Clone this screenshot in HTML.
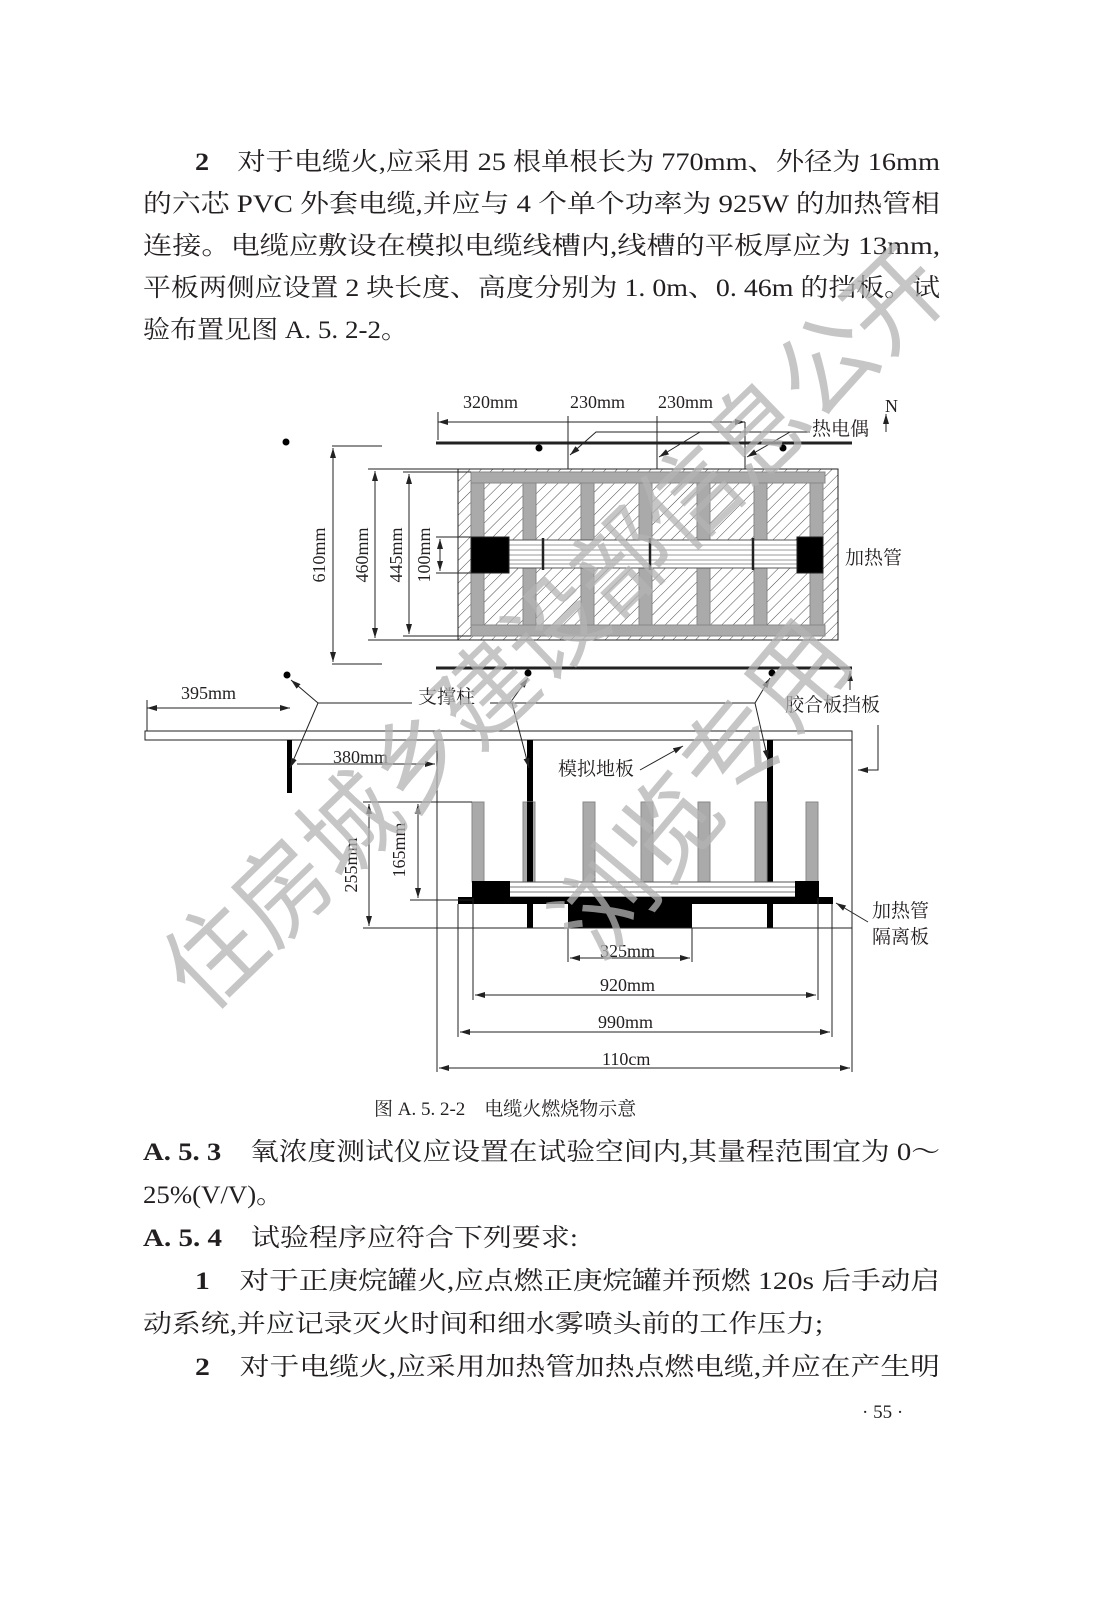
<!DOCTYPE html>
<html><head><meta charset="utf-8"><style>
html,body{margin:0;padding:0;background:#fff;}
svg{display:block;}
.t{font-family:"Liberation Serif","Noto Serif CJK SC",serif;font-size:25px;fill:#231f20;}
.d{font-family:"Liberation Serif","Noto Serif CJK SC",serif;font-size:18px;fill:#231f20;}
.c{font-family:"Liberation Serif","Noto Serif CJK SC",serif;font-size:19px;fill:#231f20;}
.w{font-family:"Noto Sans CJK SC",sans-serif;font-size:100px;fill:#b4b4b4;opacity:0.75;}
</style></head><body>
<svg width="1102" height="1597" viewBox="0 0 1102 1597" xmlns="http://www.w3.org/2000/svg">
<defs>
<pattern id="h" patternUnits="userSpaceOnUse" width="8" height="8" patternTransform="rotate(45)">
<rect width="8" height="8" fill="#fff"/><line x1="0" y1="0" x2="0" y2="8" stroke="#333" stroke-width="0.9"/></pattern>
<marker id="a" markerWidth="10" markerHeight="6" refX="10" refY="3" orient="auto-start-reverse" markerUnits="userSpaceOnUse"><path d="M0,0L10,3L0,6z" fill="#222"/></marker>
</defs>
<!-- paragraph text -->
<text class="t" x="195" y="170" textLength="745" lengthAdjust="spacingAndGlyphs"><tspan font-weight="bold">2</tspan>　对于电缆火,应采用 25 根单根长为 770mm、外径为 16mm</text>
<text class="t" x="143" y="212" textLength="797" lengthAdjust="spacingAndGlyphs">的六芯 PVC 外套电缆,并应与 4 个单个功率为 925W 的加热管相</text>
<text class="t" x="143" y="254" textLength="797" lengthAdjust="spacingAndGlyphs">连接。电缆应敷设在模拟电缆线槽内,线槽的平板厚应为 13mm,</text>
<text class="t" x="143" y="296" textLength="797" lengthAdjust="spacingAndGlyphs">平板两侧应设置 2 块长度、高度分别为 1. 0m、0. 46m 的挡板。试</text>
<text class="t" x="143" y="338" textLength="265" lengthAdjust="spacingAndGlyphs">验布置见图 A. 5. 2-2。</text>

<g stroke="#222" fill="none" stroke-width="1">
<!-- top view -->
<line x1="438" y1="422" x2="745" y2="422" marker-start="url(#a)" marker-end="url(#a)"/>
<line x1="568" y1="416" x2="568" y2="428"/><line x1="657" y1="416" x2="657" y2="428"/>
<line x1="438" y1="412" x2="438" y2="440"/>
<line x1="568" y1="422" x2="568" y2="565"/><line x1="657" y1="422" x2="657" y2="565"/><line x1="745" y1="422" x2="745" y2="565"/>
<line x1="436" y1="443" x2="852" y2="443" stroke-width="3"/>
<line x1="436" y1="668" x2="852" y2="668" stroke-width="3"/>
<!-- thermo leaders -->
<polyline points="810,432 596,432 570,455" marker-end="url(#a)"/>
<line x1="700" y1="432" x2="659" y2="457" marker-end="url(#a)"/>
<line x1="790" y1="432" x2="747" y2="457" marker-end="url(#a)"/>
<!-- N -->
<line x1="886" y1="432" x2="886" y2="414" marker-end="url(#a)"/>
<!-- hatched box -->
<rect x="458" y="469" width="380" height="171" fill="url(#h)"/>
<g fill="#aaa" stroke="#888">
<rect x="471" y="472" width="354" height="11"/><rect x="471" y="625" width="354" height="11"/>
<rect x="471" y="483" width="13" height="142"/><rect x="523" y="483" width="13" height="142"/><rect x="581" y="483" width="13" height="142"/>
<rect x="639" y="483" width="13" height="142"/><rect x="697" y="483" width="13" height="142"/><rect x="754" y="483" width="13" height="142"/><rect x="810" y="483" width="13" height="142"/>
</g>
<rect x="508" y="540" width="290" height="28" fill="#fff" stroke="#555"/>
<g stroke="#777" stroke-width="0.8">
<line x1="508" y1="545" x2="798" y2="545"/><line x1="508" y1="550" x2="798" y2="550"/><line x1="508" y1="555" x2="798" y2="555"/><line x1="508" y1="560" x2="798" y2="560"/><line x1="508" y1="564" x2="798" y2="564"/></g>
<rect x="471" y="537" width="38" height="36" fill="#000"/><rect x="797" y="537" width="26" height="36" fill="#000"/>
<line x1="543" y1="538" x2="543" y2="570" stroke-width="2.5"/><line x1="650" y1="538" x2="650" y2="570" stroke-width="2.5"/><line x1="753" y1="538" x2="753" y2="570" stroke-width="2.5"/>
<!-- left dims top -->
<line x1="332" y1="446" x2="382" y2="446"/><line x1="332" y1="664" x2="382" y2="664"/>
<line x1="333" y1="448" x2="333" y2="662" marker-start="url(#a)" marker-end="url(#a)"/>
<line x1="368" y1="469" x2="458" y2="469"/><line x1="368" y1="640" x2="458" y2="640"/>
<line x1="375" y1="471" x2="375" y2="638" marker-start="url(#a)" marker-end="url(#a)"/>
<line x1="403" y1="472" x2="471" y2="472"/><line x1="403" y1="636" x2="471" y2="636"/>
<line x1="409" y1="474" x2="409" y2="634" marker-start="url(#a)" marker-end="url(#a)"/>
<line x1="436" y1="537" x2="471" y2="537"/><line x1="436" y1="573" x2="471" y2="573"/>
<line x1="440" y1="539" x2="440" y2="571" marker-start="url(#a)" marker-end="url(#a)"/>

<!-- side view -->
<line x1="147" y1="708" x2="290" y2="708" marker-start="url(#a)" marker-end="url(#a)"/>
<line x1="147" y1="700" x2="147" y2="731"/>
<rect x="145" y="731" width="707" height="9" fill="#fff"/>
<line x1="852" y1="731" x2="852" y2="1072"/>
<line x1="437" y1="740" x2="437" y2="1072"/>
<rect x="287" y="740" width="5" height="53" fill="#000" stroke="none"/>
<rect x="527" y="740" width="6" height="62" fill="#000" stroke="none"/>
<rect x="767" y="740" width="6" height="147" fill="#000" stroke="none"/>
<line x1="297" y1="764" x2="435" y2="764" marker-end="url(#a)"/>
<g fill="#aaa" stroke="#888">
<rect x="472" y="802" width="12" height="80"/><rect x="523" y="802" width="12" height="80"/><rect x="583" y="802" width="12" height="80"/>
<rect x="641" y="802" width="12" height="80"/><rect x="698" y="802" width="12" height="80"/><rect x="755" y="802" width="12" height="80"/><rect x="806" y="802" width="12" height="80"/></g>
<rect x="527" y="802" width="6" height="80" fill="#000" stroke="none"/>
<rect x="508" y="882" width="290" height="15" fill="#fff" stroke="#555"/>
<line x1="508" y1="887" x2="798" y2="887" stroke="#777"/><line x1="508" y1="892" x2="798" y2="892" stroke="#777"/>
<rect x="472" y="881" width="38" height="17" fill="#000" stroke="none"/><rect x="795" y="881" width="24" height="17" fill="#000" stroke="none"/>
<rect x="458" y="897" width="375" height="7" fill="#000" stroke="none"/>
<rect x="568" y="897" width="124" height="31" fill="#000" stroke="none"/>
<rect x="527" y="897" width="6" height="31" fill="#000" stroke="none"/>
<rect x="767" y="897" width="6" height="31" fill="#000" stroke="none"/>
<line x1="437" y1="928" x2="852" y2="928"/>
<!-- side dims -->
<line x1="363" y1="802" x2="472" y2="802"/><line x1="363" y1="928" x2="437" y2="928"/><line x1="410" y1="900" x2="472" y2="900"/>
<line x1="369" y1="804" x2="369" y2="926" marker-start="url(#a)" marker-end="url(#a)"/>
<line x1="418" y1="804" x2="418" y2="898" marker-start="url(#a)" marker-end="url(#a)"/>
<line x1="568" y1="928" x2="568" y2="962"/><line x1="692" y1="928" x2="692" y2="962"/>
<line x1="570" y1="958" x2="690" y2="958" marker-start="url(#a)" marker-end="url(#a)"/>
<line x1="473" y1="898" x2="473" y2="1000"/><line x1="818" y1="898" x2="818" y2="1000"/>
<line x1="475" y1="995" x2="816" y2="995" marker-start="url(#a)" marker-end="url(#a)"/>
<line x1="458" y1="904" x2="458" y2="1037"/><line x1="832" y1="904" x2="832" y2="1037"/>
<line x1="460" y1="1032" x2="830" y2="1032" marker-start="url(#a)" marker-end="url(#a)"/>
<line x1="439" y1="1068" x2="850" y2="1068" marker-start="url(#a)" marker-end="url(#a)"/>
<!-- leaders -->
<polyline points="412,703 318,703 291,680" marker-end="url(#a)"/>
<line x1="318" y1="703" x2="290" y2="768" marker-end="url(#a)"/>
<polyline points="490,703 755,703" />
<line x1="510" y1="703" x2="528" y2="678" marker-end="url(#a)"/>
<line x1="512" y1="703" x2="529" y2="768" marker-end="url(#a)"/>
<line x1="755" y1="703" x2="770" y2="678" marker-end="url(#a)"/>
<line x1="755" y1="703" x2="768" y2="760" marker-end="url(#a)"/>
<line x1="850" y1="690" x2="850" y2="671" marker-end="url(#a)"/>
<polyline points="878,725 878,770 858,770" marker-end="url(#a)"/>
<line x1="640" y1="770" x2="683" y2="746" marker-end="url(#a)"/>
<line x1="868" y1="922" x2="836" y2="903" marker-end="url(#a)"/>
</g>
<g fill="#000">
<circle cx="286" cy="442" r="3.5"/><circle cx="539" cy="448" r="3.5"/><circle cx="783" cy="448" r="3.5"/>
<circle cx="287" cy="675" r="3.5"/><circle cx="528" cy="673" r="3.5"/><circle cx="772" cy="673" r="3.5"/>
</g>
<g class="d">
<text x="463" y="408">320mm</text><text x="570" y="408">230mm</text><text x="658" y="408">230mm</text>
<text x="885" y="412">N</text>
<text x="812" y="435" class="c">热电偶</text>
<text x="845" y="564" class="c">加热管</text>
<text x="181" y="699">395mm</text>
<text x="418" y="703" class="c">支撑柱</text>
<text x="785" y="711" class="c">胶合板挡板</text>
<text x="333" y="763">380mm</text>
<text x="558" y="775" class="c">模拟地板</text>
<text x="872" y="917" class="c">加热管</text>
<text x="872" y="943" class="c">隔离板</text>
<text x="600" y="957">325mm</text>
<text x="600" y="991">920mm</text>
<text x="598" y="1028">990mm</text>
<text x="602" y="1065">110cm</text>
<text transform="translate(325,555) rotate(-90)" text-anchor="middle">610mm</text>
<text transform="translate(368,555) rotate(-90)" text-anchor="middle">460mm</text>
<text transform="translate(402,555) rotate(-90)" text-anchor="middle">445mm</text>
<text transform="translate(430,555) rotate(-90)" text-anchor="middle">100mm</text>
<text transform="translate(357,865) rotate(-90)" text-anchor="middle">255mm</text>
<text transform="translate(405,850) rotate(-90)" text-anchor="middle">165mm</text>
</g>
<text class="c" x="374" y="1115">图 A. 5. 2-2　电缆火燃烧物示意</text>

<text class="t" x="143" y="1160" textLength="797" lengthAdjust="spacingAndGlyphs"><tspan font-weight="bold">A. 5. 3</tspan>　氧浓度测试仪应设置在试验空间内,其量程范围宜为 0～</text>
<text class="t" x="143" y="1203" textLength="140" lengthAdjust="spacingAndGlyphs">25%(V/V)。</text>
<text class="t" x="143" y="1246" textLength="435" lengthAdjust="spacingAndGlyphs"><tspan font-weight="bold">A. 5. 4</tspan>　试验程序应符合下列要求:</text>
<text class="t" x="195" y="1289" textLength="745" lengthAdjust="spacingAndGlyphs"><tspan font-weight="bold">1</tspan>　对于正庚烷罐火,应点燃正庚烷罐并预燃 120s 后手动启</text>
<text class="t" x="143" y="1332" textLength="680" lengthAdjust="spacingAndGlyphs">动系统,并应记录灭火时间和细水雾喷头前的工作压力;</text>
<text class="t" x="195" y="1375" textLength="745" lengthAdjust="spacingAndGlyphs"><tspan font-weight="bold">2</tspan>　对于电缆火,应采用加热管加热点燃电缆,并应在产生明</text>
<text class="c" x="862" y="1418">· 55 ·</text>

<!-- watermark -->
<text class="w" transform="translate(205,1015) rotate(-44)" textLength="1040" lengthAdjust="spacingAndGlyphs">住房城乡建设部信息公开</text>
<text class="w" transform="translate(600,965) rotate(-50)" textLength="400" lengthAdjust="spacingAndGlyphs">浏览专用</text>
</svg>
</body></html>
